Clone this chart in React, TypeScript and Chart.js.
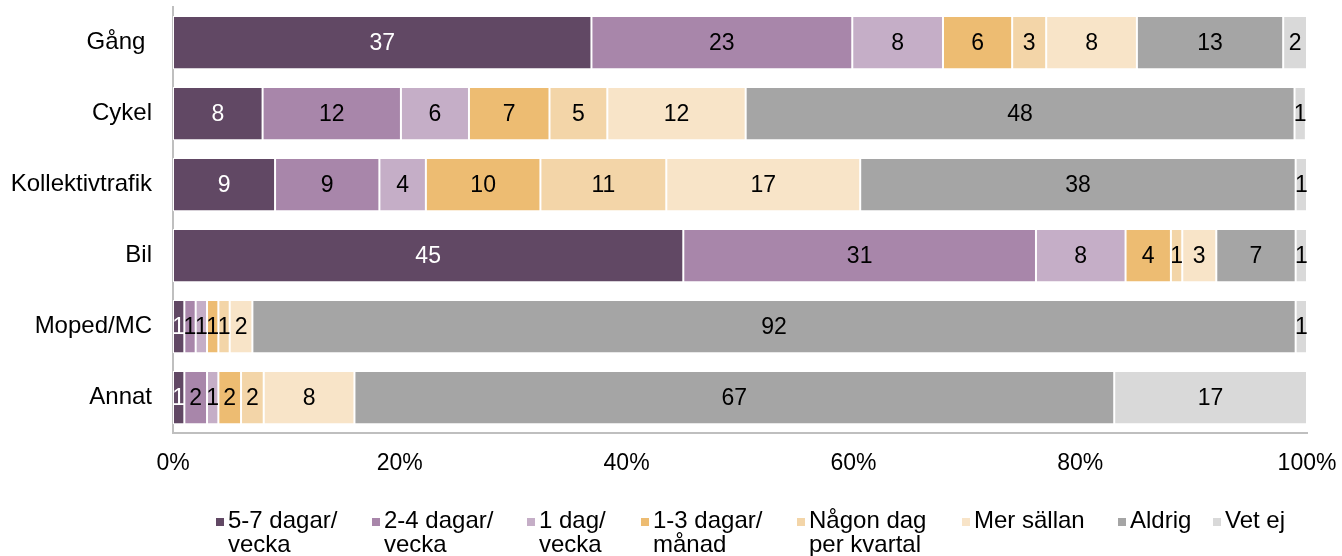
import React, { useEffect, useRef } from 'react';
import { Chart, registerables } from 'chart.js';

Chart.register(...registerables);

const FONT_FAMILY = '"Liberation Sans", Arial, sans-serif';
const LABEL_SIZE = 23;
const AXIS_SIZE = 23;
const CAT_SIZE = 24;
const LEGEND_SIZE = 24;

const categories = ['Gång ', 'Cykel', 'Kollektivtrafik', 'Bil', 'Moped/MC', 'Annat'];

const seriesNames: string[][] = [
  ['5-7 dagar/', 'vecka'],
  ['2-4 dagar/', 'vecka'],
  ['1 dag/', 'vecka'],
  ['1-3 dagar/', 'månad'],
  ['Någon dag', 'per kvartal'],
  ['Mer sällan'],
  ['Aldrig'],
  ['Vet ej'],
];

const seriesColors = ['#614864', '#a886aa', '#c5aec7', '#edbc72', '#f3d5a8', '#f8e4c8', '#a5a5a5', '#d9d9d9'];

const dagar57 = [36.9, 7.9, 9.0, 45.0, 1.0, 1.0];
const dagar24 = [23.0, 12.2, 9.2, 31.1, 1.0, 2.0];
const dag1 = [8.0, 6.0, 4.1, 7.9, 1.0, 1.0];
const manad13 = [6.1, 7.1, 10.1, 4.0, 1.0, 2.0];
const kvartal = [3.0, 5.1, 11.1, 1.0, 1.0, 2.0];
const merSallan = [8.0, 12.2, 17.1, 3.0, 2.0, 8.0];
const aldrig = [12.9, 48.4, 38.4, 7.0, 92.0, 67.0];
const vetEj = [2.1, 1.0, 1.0, 1.0, 1.0, 17.0];

const seriesValues = [dagar57, dagar24, dag1, manad13, kvartal, merSallan, aldrig, vetEj];

const xTicks = [0, 20, 40, 60, 80, 100];

// legend layout (page x of each marker)
const legendMarkerX = [216, 372, 527, 641, 797, 962, 1118, 1213];

const valueLabels = {
  id: 'valueLabels',
  afterDatasetsDraw(chart: any) {
    const ctx = chart.ctx;
    ctx.save();
    ctx.font = `${LABEL_SIZE}px ${FONT_FAMILY}`;
    ctx.textAlign = 'center';
    ctx.textBaseline = 'middle';
    chart.data.datasets.forEach((ds: any, i: number) => {
      const meta = chart.getDatasetMeta(i);
      meta.data.forEach((el: any, j: number) => {
        const v = ds.data[j];
        const p = el.getProps(['x', 'y', 'base'], true);
        ctx.fillStyle = i === 0 ? '#ffffff' : '#000000';
        ctx.fillText(String(Math.round(v)), (p.x + p.base) / 2, p.y + 1);
      });
    });
    ctx.restore();
  },
};

const customLegend = {
  id: 'customLegend',
  afterDraw(chart: any) {
    const ctx = chart.ctx;
    ctx.save();
    ctx.font = `${LEGEND_SIZE}px ${FONT_FAMILY}`;
    ctx.textBaseline = 'middle';
    ctx.textAlign = 'left';
    const box = 8;
    const boxGap = 4;
    const y1 = 521;
    const lineH = 24;
    seriesNames.forEach((lines, i) => {
      const x = legendMarkerX[i];
      ctx.fillStyle = seriesColors[i];
      ctx.fillRect(x, y1 - box / 2 + 1, box, box);
      ctx.fillStyle = '#000000';
      lines.forEach((l, k) => {
        ctx.fillText(l, x + box + boxGap, y1 + k * lineH);
      });
    });
    ctx.restore();
  },
};

const zeroPadding = (scale: any) => {
  scale.paddingTop = 0;
  scale.paddingBottom = 0;
  scale.paddingLeft = 0;
  scale.paddingRight = 0;
};

export default function App() {
  const canvasRef = useRef<HTMLCanvasElement | null>(null);

  useEffect(() => {
    if (!canvasRef.current) return;
    const chart = new Chart(canvasRef.current, {
      type: 'bar',
      data: {
        labels: categories,
        datasets: seriesValues.map((vals, i) => ({
          label: seriesNames[i].join(' '),
          data: vals,
          backgroundColor: seriesColors[i],
          borderColor: '#ffffff',
          borderWidth: 1,
          borderSkipped: false,
          barPercentage: 0.75,
          categoryPercentage: 1,
        })),
      },
      options: {
        indexAxis: 'y',
        animation: false,
        responsive: true,
        maintainAspectRatio: false,
        layout: { padding: { left: 0, right: 35, top: 7, bottom: 0 } },
        plugins: {
          legend: { display: false },
          tooltip: { enabled: false },
        },
        scales: {
          x: {
            stacked: true,
            min: 0,
            max: 100,
            afterBuildTicks: (scale: any) => {
              scale.ticks = xTicks.map((v) => ({ value: v }));
            },
            afterFit: (scale: any) => {
              scale.height = 123;
              zeroPadding(scale);
            },
            grid: { display: false, drawTicks: false },
            border: { display: true, color: '#bfbfbf', width: 2 },
            ticks: {
              padding: 17,
              color: '#000000',
              font: { size: AXIS_SIZE, family: FONT_FAMILY },
              callback: (v: any) => `${v}%`,
              maxRotation: 0,
            },
          },
          y: {
            stacked: true,
            afterFit: (scale: any) => {
              scale.width = 173;
              zeroPadding(scale);
            },
            grid: { display: false, drawTicks: false },
            border: { display: true, color: '#bfbfbf', width: 2 },
            ticks: {
              padding: 21,
              color: '#000000',
              font: { size: CAT_SIZE, family: FONT_FAMILY },
            },
          },
        },
      },
      plugins: [valueLabels, customLegend],
    });
    return () => chart.destroy();
  }, []);

  return (
    <div style={{ position: 'fixed', left: 0, top: 0, width: 1342, height: 556, background: '#ffffff' }}>
      <canvas ref={canvasRef} />
    </div>
  );
}
